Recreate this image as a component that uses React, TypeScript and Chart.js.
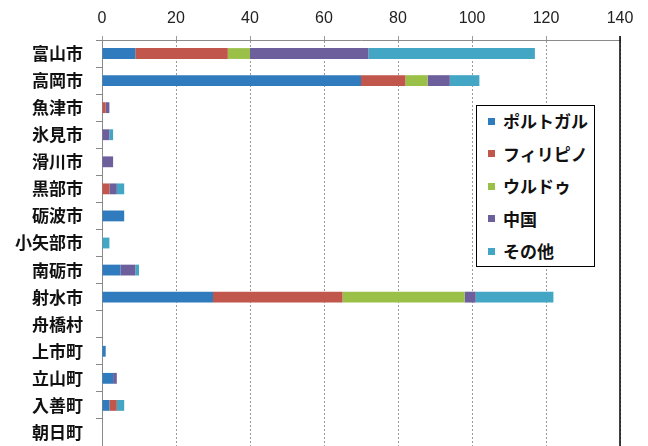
import React, { useEffect, useRef } from "react";
import { Chart, registerables } from "chart.js";

Chart.register(...registerables);

const categories = ["富山市", "高岡市", "魚津市", "氷見市", "滑川市", "黒部市", "砺波市", "小矢部市", "南砺市", "射水市", "舟橋村", "上市町", "立山町", "入善町", "朝日町"];
const seriesNames = ["ポルトガル", "フィリピノ", "ウルドゥ", "中国", "その他"];
const portugal = [9, 70, 0, 0, 0, 0, 6, 0, 5, 30, 0, 1, 3, 2, 0];
const philippines = [25, 12, 1, 0, 0, 2, 0, 0, 0, 35, 0, 0, 0, 2, 0];
const urdu = [6, 6, 0, 0, 0, 0, 0, 0, 0, 33, 0, 0, 0, 0, 0];
const china = [32, 6, 1, 2, 3, 2, 0, 0, 4, 3, 0, 0, 1, 0, 0];
const others = [45, 8, 0, 1, 0, 2, 0, 2, 1, 21, 0, 0, 0, 2, 0];
const colors = ["#2f7bbd", "#c0564c", "#9bc048", "#6c5f9c", "#42a6c4"];
const xMin = 0;
const xMax = 140;
const xStep = 20;

const seriesValues = [portugal, philippines, urdu, china, others];

const rightBorderPlugin = {
  id: "rightBorder",
  afterDraw(chart: any) {
    const { ctx, chartArea } = chart;
    ctx.save();
    ctx.strokeStyle = "#000";
    ctx.lineWidth = 1.5;
    ctx.beginPath();
    ctx.moveTo(chartArea.right, chartArea.top - 4);
    ctx.lineTo(chartArea.right, chartArea.bottom);
    ctx.stroke();
    ctx.restore();
  },
};

export default function App() {
  const canvasRef = useRef<HTMLCanvasElement | null>(null);

  useEffect(() => {
    if (!canvasRef.current) return;
    const chart = new Chart(canvasRef.current, {
      type: "bar",
      data: {
        labels: categories,
        datasets: seriesNames.map((name, i) => ({
          label: name,
          data: seriesValues[i],
          backgroundColor: colors[i],
          borderWidth: 0,
          categoryPercentage: 1,
          barPercentage: 0.4,
        })),
      },
      options: {
        indexAxis: "y",
        animation: false,
        responsive: true,
        maintainAspectRatio: false,
        layout: { padding: { left: 0, right: 28, top: 0, bottom: 0 } },
        plugins: {
          legend: { display: false },
          tooltip: { enabled: false },
        },
        scales: {
          x: {
            position: "top",
            stacked: true,
            min: xMin,
            max: xMax,
            ticks: {
              stepSize: xStep,
              color: "#222",
              padding: 8,
              font: { family: "'Liberation Sans', Arial, sans-serif", size: 16 },
            },
            grid: {
              color: "#9a9a9a",
              lineWidth: 1,
              drawTicks: true,
              tickLength: 4,
            },
            border: { color: "#8a8a8a", width: 1, dash: [2, 2] },
            afterFit(scale: any) {
              scale.height = 40;
            },
          },
          y: {
            stacked: true,
            ticks: {
              color: "#111",
              padding: 13,
              font: { family: "'Noto Sans CJK JP', sans-serif", size: 17, weight: "bold" },
            },
            grid: {
              drawOnChartArea: false,
              drawTicks: true,
              tickLength: 6,
              color: "#888",
              offset: true,
            },
            border: { color: "#8a8a8a", width: 1 },
            afterFit(scale: any) {
              scale.width = 102;
              scale.paddingTop = 0;
              scale.paddingBottom = 0;
            },
          },
        },
      },
      plugins: [rightBorderPlugin],
    });
    return () => chart.destroy();
  }, []);

  const rowH = 32.5;
  return (
    <div style={{ position: "absolute", left: 0, top: 0, width: 648, height: 446, background: "#fff", overflow: "hidden" }}>
      <canvas ref={canvasRef} />
      <div
        style={{
          position: "absolute",
          left: 476,
          top: 105,
          width: 119,
          height: 162,
          boxSizing: "border-box",
          border: "1.5px solid #000",
          background: "#fff",
        }}
      >
        {seriesNames.map((name, i) => (
          <div
            key={name}
            style={{
              position: "absolute",
              left: 11,
              top: 15 + i * rowH - 13,
              height: 26,
              display: "flex",
              alignItems: "center",
              whiteSpace: "nowrap",
            }}
          >
            <span style={{ display: "inline-block", width: 7, height: 7, background: colors[i], marginRight: 8 }} />
            <span
              style={{
                fontFamily: "'Noto Sans CJK JP', sans-serif",
                fontWeight: "bold",
                fontSize: 17,
                color: "#111",
                lineHeight: "26px",
              }}
            >
              {name}
            </span>
          </div>
        ))}
      </div>
    </div>
  );
}
